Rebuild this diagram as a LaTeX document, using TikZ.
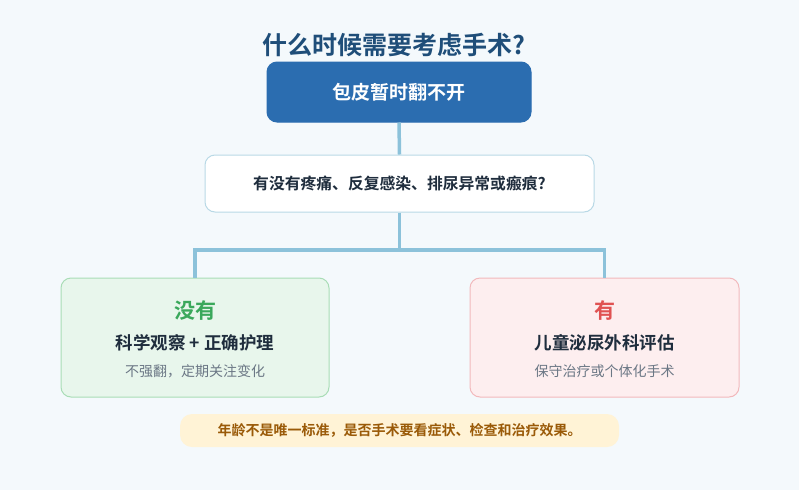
\documentclass[tikz,border=0pt]{standalone}
\usepackage{fontspec}
\setmainfont{Noto Sans CJK SC}[BoldFont={Noto Sans CJK SC Bold}]
\definecolor{bg}{HTML}{F4F9FC}
\definecolor{titleblue}{HTML}{1F4E79}
\definecolor{topblue}{HTML}{2B6DB0}
\definecolor{conn}{HTML}{8CC2DA}
\definecolor{qborder}{HTML}{B9D9E6}
\definecolor{dark}{HTML}{1F2D3D}
\definecolor{gfill}{HTML}{E8F6EC}
\definecolor{gborder}{HTML}{A9DDB6}
\definecolor{gtext}{HTML}{3AA85B}
\definecolor{rfill}{HTML}{FDEEEF}
\definecolor{rborder}{HTML}{F2B9BC}
\definecolor{rtext}{HTML}{E05252}
\definecolor{gray}{HTML}{6B7785}
\definecolor{nfill}{HTML}{FFF3D6}
\definecolor{ntext}{HTML}{9A5A08}
\begin{document}
\begin{tikzpicture}[x=1pt,y=-1pt,
  box/.style={rounded corners=10pt,line width=1pt},
  line/.style={conn,line width=3.5pt},
  t/.style={inner sep=0pt,anchor=center}]
\fill[bg] (0,0) rectangle (799,490);
\useasboundingbox (0,0) rectangle (799,490);
\node[t,text=titleblue,font=\bfseries\fontsize{25}{28}\selectfont] (title) at (394,45) {什么时候需要考虑手术?};
\node[box,fill=topblue,draw=topblue,minimum width=264pt,minimum height=60pt,text=white,font=\bfseries\fontsize{19}{22}\selectfont] (top) at (399,92) {包皮暂时翻不开};
\node[box,fill=white,draw=qborder,minimum width=389pt,minimum height=57pt,text=dark,font=\bfseries\fontsize{15.8}{18}\selectfont] (q) at (399.5,183.5) {有没有疼痛、反复感染、排尿异常或瘢痕?};
\node[box,fill=gfill,draw=gborder,minimum width=268pt,minimum height=119pt] (l) at (195,337.5) {};
\node[box,fill=rfill,draw=rborder,minimum width=269pt,minimum height=119pt] (r) at (604.5,337.5) {};
\node[t,text=gtext,font=\bfseries\fontsize{21}{24}\selectfont] (l1) at (195,311) {没有};
\node[t,text=dark,font=\bfseries\fontsize{17.5}{20}\selectfont] (l2) at (195,343) {科学观察 + 正确护理};
\node[t,text=gray,font=\fontsize{14}{16}\selectfont] (l3) at (195,371) {不强翻，定期关注变化};
\node[t,text=rtext,font=\bfseries\fontsize{21}{24}\selectfont] (r1) at (604.5,311) {有};
\node[t,text=dark,font=\bfseries\fontsize{17.5}{20}\selectfont] (r2) at (604.5,343) {儿童泌尿外科评估};
\node[t,text=gray,font=\fontsize{14}{16}\selectfont] (r3) at (604.5,371) {保守治疗或个体化手术};
\node[rounded corners=12pt,fill=nfill,minimum width=439pt,minimum height=33pt,text=ntext,font=\bfseries\fontsize{14}{16}\selectfont] (note) at (399.5,430.5) {年龄不是唯一标准，是否手术要看症状、检查和治疗效果。};
\draw[line] (top.south) -- (q.north);
\coordinate (j) at (399.5,250);
\draw[line] (q.south) -- (j);
\draw[line] (l.north) |- (j) -| (r.north);
\end{tikzpicture}
\end{document}
